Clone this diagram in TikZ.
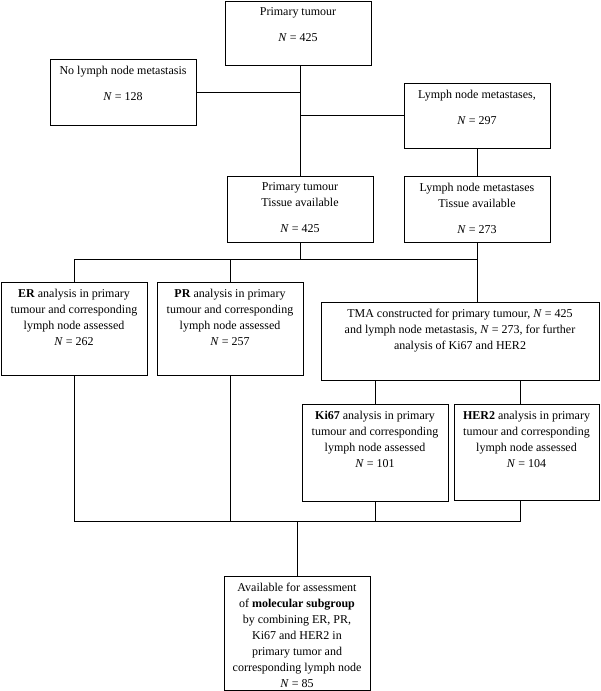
\documentclass[tikz,border=0pt]{standalone}
\usepackage{fontspec}
\setmainfont{Liberation Serif}
\newcommand{\flowtext}[3]{\parbox[c][#2][t]{#1}{\centering\vspace*{7pt}#3}}

\begin{document}
\begin{tikzpicture}[x=1pt,y=-1pt,
    box/.style={draw,line width=0.8pt,inner sep=0pt,font=\fontsize{12}{16}\selectfont},
    link/.style={line width=0.8pt}]
    \useasboundingbox (0,0) rectangle (600,691);

    \node[box] (prim) at (298,33) {\flowtext{146pt}{64pt}{Primary tumour\\[10pt]\textit{N} = 425}};
    \node[box] (noln) at (123,92) {\flowtext{146pt}{66pt}{No lymph node metastasis\\[10pt]\textit{N} = 128}};
    \node[box] (lnm) at (477,115.5) {\flowtext{146pt}{65pt}{Lymph node metastases,\\[10pt]\textit{N} = 297}};
    \node[box] (primtis) at (300,209) {\flowtext{146pt}{66pt}{Primary tumour\\Tissue available\\[10pt]\textit{N} = 425}};
    \node[box] (lnmtis) at (477,209) {\flowtext{146pt}{66pt}{Lymph node metastases\\Tissue available\\[10pt]\textit{N} = 273}};

    \node[box] (er) at (74,328.5) {\flowtext{146pt}{93pt}{\textbf{ER} analysis in primary\\tumour and corresponding\\lymph node assessed\\\textit{N} = 262}};
    \node[box] (pr) at (230,328.5) {\flowtext{146pt}{93pt}{\textbf{PR} analysis in primary\\tumour and corresponding\\lymph node assessed\\\textit{N} = 257}};
    \node[box] (tma) at (460,341) {\flowtext{278pt}{78pt}{TMA constructed for primary tumour, \textit{N} = 425\\and lymph node metastasis, \textit{N} = 273, for further\\analysis of Ki67 and HER2}};
    \node[box] (ki) at (375,452.5) {\flowtext{146pt}{97pt}{\textbf{Ki67} analysis in primary\\tumour and corresponding\\lymph node assessed\\\textit{N} = 101}};
    \node[box] (her) at (526.5,452) {\flowtext{145pt}{96pt}{\textbf{HER2} analysis in primary\\tumour and corresponding\\lymph node assessed\\\textit{N} = 104}};

    \node[box] (comb) at (297,633) {\flowtext{146pt}{114pt}{Available for assessment\\of \textbf{molecular subgroup}\\by combining ER, PR,\\Ki67 and HER2 in\\primary tumor and\\corresponding lymph node\\\textit{N} = 85}};

    \coordinate (split) at (0,259);
    \coordinate (join) at (0,521);
    \coordinate (herdrop) at (520,0);

    \draw[link] (prim.south -| primtis.north) -- (primtis.north);
    \draw[link] (noln.east) -- (noln.east -| primtis.north);
    \draw[link] (lnm.west) -- (lnm.west -| primtis.north);
    \draw[link] (lnm.south) -- (lnmtis.north);

    \draw[link] (primtis.south) -- (primtis.south |- split);
    \draw[link] (lnmtis.south) -- (tma.north -| lnmtis.south);
    \draw[link] (er.north) -- (er.north |- split) -- (lnmtis.south |- split);
    \draw[link] (pr.north) -- (pr.north |- split);
    \draw[link] (ki.north) -- (ki.north |- tma.south);
    \draw[link] (her.north -| herdrop) -- (herdrop |- tma.south);

    \draw[link] (er.south) -- (er.south |- join) -- (herdrop |- join) -- (herdrop |- her.south);
    \draw[link] (pr.south) -- (pr.south |- join);
    \draw[link] (ki.south) -- (ki.south |- join);
    \draw[link] (comb.north) -- (comb.north |- join);
\end{tikzpicture}
\end{document}
